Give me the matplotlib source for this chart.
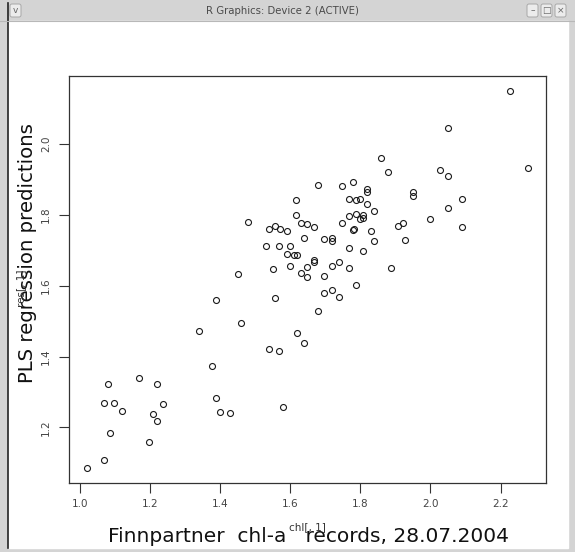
import numpy as np
import matplotlib
matplotlib.use("Agg")
import matplotlib.pyplot as plt
from matplotlib.patches import Rectangle, FancyBboxPatch
from matplotlib.colors import LinearSegmentedColormap

# chl-a records (x) and PLS predictions (y)
chl = [1.021, 1.070, 1.088, 1.199, 1.220, 1.210, 1.121, 1.070, 1.099, 1.239,
       1.081, 1.220, 1.169, 1.389, 1.400, 1.429, 1.579, 1.378, 1.339, 1.460,
       1.389, 1.558, 1.540, 1.568, 1.619, 1.640, 1.680, 1.698, 1.719, 1.740,
       1.788, 1.451, 1.551, 1.599, 1.630, 1.649, 1.649, 1.697, 1.719, 1.740,
       1.668, 1.668, 1.769, 1.888, 1.590, 1.610, 1.620, 1.531, 1.568, 1.600,
       1.640, 1.698, 1.719, 1.719, 1.769, 1.808, 1.838, 1.928, 1.540, 1.558,
       1.570, 1.591, 1.630, 1.649, 1.668, 1.479, 1.618, 1.618, 1.680, 1.748,
       1.780, 1.819, 1.819, 1.949, 1.949, 1.769, 1.788, 1.799, 1.820, 1.838,
       1.769, 1.788, 1.808, 1.799, 1.809, 1.748, 1.780, 1.781, 1.830, 1.908,
       1.921, 1.999, 2.089, 2.050, 2.089, 2.028, 2.050, 1.879, 1.859, 2.050,
       2.228, 2.279]
pred = [1.086, 1.108, 1.184, 1.159, 1.218, 1.238, 1.245, 1.269, 1.269, 1.266,
        1.323, 1.323, 1.340, 1.283, 1.242, 1.240, 1.257, 1.374, 1.472, 1.494,
        1.561, 1.566, 1.421, 1.416, 1.466, 1.437, 1.528, 1.579, 1.589, 1.569,
        1.601, 1.633, 1.647, 1.655, 1.635, 1.625, 1.652, 1.628, 1.656, 1.666,
        1.673, 1.668, 1.650, 1.650, 1.691, 1.686, 1.686, 1.712, 1.713, 1.711,
        1.735, 1.731, 1.736, 1.727, 1.708, 1.699, 1.726, 1.728, 1.760, 1.769,
        1.760, 1.755, 1.777, 1.774, 1.766, 1.781, 1.801, 1.843, 1.885, 1.883,
        1.894, 1.874, 1.864, 1.866, 1.854, 1.845, 1.842, 1.845, 1.830, 1.810,
        1.797, 1.803, 1.801, 1.789, 1.791, 1.776, 1.758, 1.760, 1.756, 1.770,
        1.776, 1.790, 1.766, 1.821, 1.844, 1.928, 1.910, 1.922, 1.961, 2.047,
        2.151, 1.932]

x_ticks = [1.0, 1.2, 1.4, 1.6, 1.8, 2.0, 2.2]
y_ticks = [1.2, 1.4, 1.6, 1.8, 2.0]

W, H = 575, 552
fig = plt.figure(figsize=(W / 100, H / 100), dpi=100)

# window frame, drawn in pixel coordinates
bg = fig.add_axes([0, 0, 1, 1], zorder=0)
bg.add_patch(Rectangle((0, 0), W, H, color='#d4d4d4'))
bg.add_patch(Rectangle((8, 21), 560, 527, color='white'))
bar = LinearSegmentedColormap.from_list('bar', ['#f2f2f2', '#d9d9d9'])
bg.imshow(np.linspace(0, 1, 21).reshape(-1, 1), cmap=bar, aspect='auto',
          extent=(0, W, 21, 0))
bg.plot([7.5, 7.5], [3, 548], color='#222222', lw=1.2)
bg.plot([0, W], [21, 21], color='#b8b8b8', lw=0.8)
bg.text(283, 10.5, 'R Graphics: Device 2 (ACTIVE)', ha='center', va='center',
        fontsize=7.3, color='#4a4a4a')
for x0, sym in [(10, 'v'), (527, '–'), (541, '□'), (555, '×')]:
    bg.add_patch(FancyBboxPatch((x0, 4), 11, 13, boxstyle='round,pad=0,rounding_size=2',
                                fc='#ececec', ec='#a8a8a8', lw=0.7))
    bg.text(x0 + 5.5, 10.5, sym, ha='center', va='center', fontsize=6.5, color='#666666')
bg.set_xlim(0, W)
bg.set_ylim(H, 0)
bg.axis('off')

# labels (the small default R labels sit under the big ones, as in the window)
bg.text(309, 537, 'Finnpartner  chl-a   records, 28.07.2004', ha='center', va='center',
        fontsize=14.5, color='#111111')
bg.text(307.6, 527, 'chl[, 1]', ha='center', va='center', fontsize=7.5, color='#333333')
bg.text(28, 253, 'PLS regression predictions', rotation=90, ha='center', va='center',
        fontsize=14.2, color='#111111')
bg.text(21, 288, 'res[, 1]', rotation=90, ha='center', va='center', fontsize=7.5,
        color='#333333')

# scatter panel
ax = fig.add_axes([69.3 / W, 1 - 482.7 / H, (546 - 69.3) / W, (482.7 - 75.7) / H], zorder=1)
ax.set_facecolor('none')
ax.plot(chl, pred, 'o', ms=4.3, mfc='none', mec='#1a1a1a', mew=0.8, ls='none')

xr = max(chl) - min(chl)
yr = max(pred) - min(pred)
ax.set_xlim(min(chl) - 0.04 * xr, max(chl) + 0.04 * xr)
ax.set_ylim(min(pred) - 0.04 * yr, max(pred) + 0.04 * yr)

ax.set_xticks(x_ticks)
ax.set_xticklabels(['%.1f' % v for v in x_ticks])
ax.set_yticks(y_ticks)
ax.set_yticklabels(['%.1f' % v for v in y_ticks], rotation=90, va='center')
ax.tick_params(direction='out', length=7, width=0.8, color='#333333',
               labelsize=7.5, labelcolor='#444444')
ax.tick_params(axis='x', pad=5)
ax.tick_params(axis='y', pad=6)
for s in ax.spines.values():
    s.set_linewidth(0.9)
    s.set_color('#333333')

fig.savefig('out.png', dpi=100)
